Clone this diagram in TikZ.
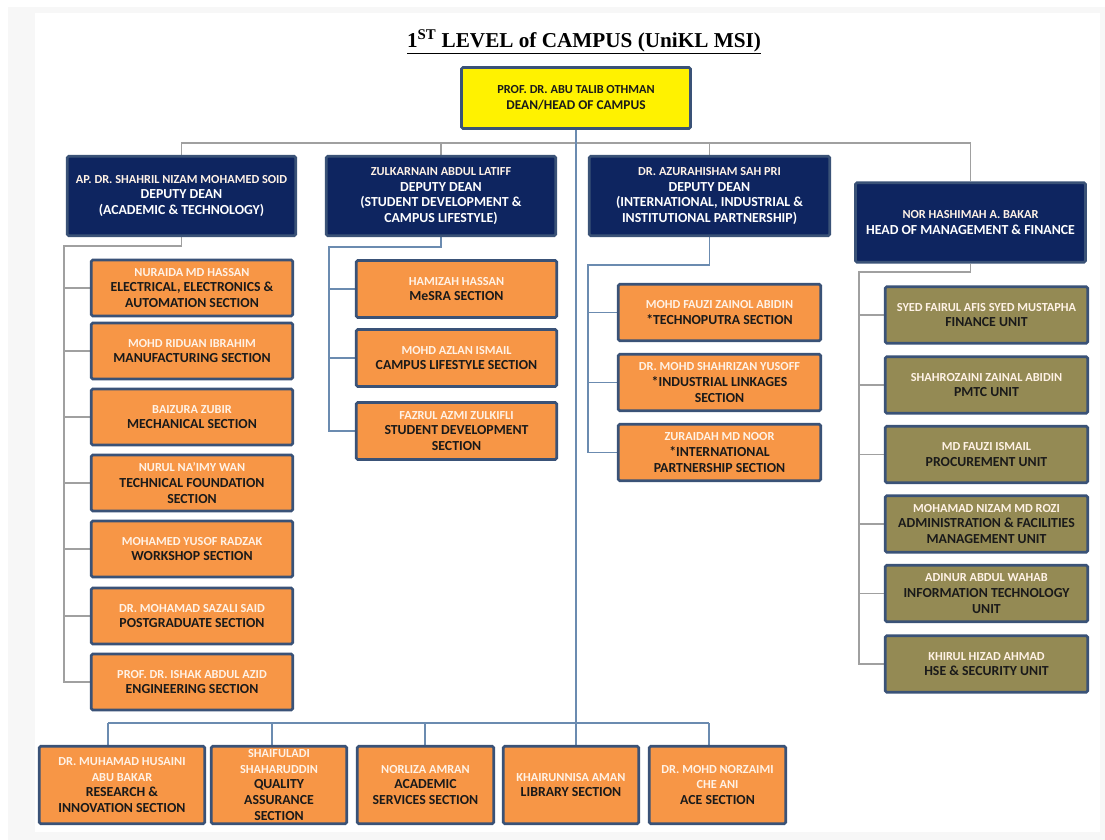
\documentclass[tikz,border=0pt]{standalone}
\usepackage{fontspec}
\setmainfont{Carlito}
\newfontfamily\titlefont{Liberation Serif}
\usetikzlibrary{backgrounds}
\definecolor{orangefill}{HTML}{F79646}
\definecolor{olivefill}{HTML}{948A54}
\definecolor{navyfill}{HTML}{0E2560}
\definecolor{bordercol}{HTML}{3A5277}
\definecolor{darktext}{HTML}{1A1A1A}
\definecolor{nmcol}{HTML}{FFF2E6}
\definecolor{linegray}{HTML}{A0A0A0}
\definecolor{lineblue}{HTML}{6B8BB0}
\definecolor{pagegray}{HTML}{F7F7F7}
\newcommand\nm[1]{{\color{nmcol}\fontsize{12.3}{15.8}\selectfont #1}}
\newcommand\dl[1]{{\fontsize{12.3}{16}\selectfont #1}}
\begin{document}
\begin{tikzpicture}[x=1pt,y=-1pt,
  box/.style={draw=bordercol, line width=2.6pt, rounded corners=1.5pt, align=center, inner sep=0pt,
              font=\bfseries\fontsize{13.8}{15.8}\selectfont},
  sz/.style 2 args={minimum width=#1, minimum height=#2},
  orangebox/.style={box, fill=orangefill, text=darktext},
  olivebox/.style={box, fill=olivefill, text=darktext},
  navybox/.style={box, fill=navyfill, text=white},
  deanbox/.style={box, fill=yellow, text=darktext, font=\bfseries\fontsize{13.4}{16}\selectfont},
  conn/.style={draw=linegray, line width=1.2pt},
  connb/.style={draw=lineblue, line width=1.2pt}]
\useasboundingbox (0,0) rectangle (1105,840);

% title
\node[font=\titlefont\bfseries\fontsize{21.2}{25}\selectfont, text=black] (title) at (584,42)
  {\underline{1\textsuperscript{ST} LEVEL of CAMPUS (UniKL MSI)}};

% dean
\node[deanbox, sz={229pt}{61pt}] (dean) at (576,98) {\dl{PROF. DR. ABU TALIB OTHMAN}\\DEAN/HEAD OF CAMPUS};

% deputy deans
\node[navybox, sz={228.5pt}{79.5pt}] (D1) at (181.5,196)
  {\nm{AP. DR. SHAHRIL NIZAM MOHAMED SOID}\\DEPUTY DEAN\\(ACADEMIC \& TECHNOLOGY)};
\node[navybox, sz={229.5pt}{79.5pt}] (D2) at (441,196)
  {\nm{ZULKARNAIN ABDUL LATIFF}\\DEPUTY DEAN\\(STUDENT DEVELOPMENT \&\\CAMPUS LIFESTYLE)};
\node[navybox, sz={240.5pt}{79.5pt}] (D3) at (709.5,196)
  {\nm{DR. AZURAHISHAM SAH PRI}\\DEPUTY DEAN\\(INTERNATIONAL, INDUSTRIAL \&\\INSTITUTIONAL PARTNERSHIP)};
\node[navybox, sz={230pt}{79.5pt}] (D4) at (970.5,222.5)
  {\nm{NOR HASHIMAH A. BAKAR}\\HEAD OF MANAGEMENT \& FINANCE};

% left column
\node[orangebox, sz={201.5pt}{56pt}] (L1) at (192,288) {\nm{NURAIDA MD HASSAN}\\ELECTRICAL, ELECTRONICS \&\\AUTOMATION SECTION};
\node[orangebox, sz={201.5pt}{56pt}] (L2) at (192,351) {\nm{MOHD RIDUAN IBRAHIM}\\MANUFACTURING SECTION};
\node[orangebox, sz={201.5pt}{56pt}] (L3) at (192,417) {\nm{BAIZURA ZUBIR}\\MECHANICAL SECTION};
\node[orangebox, sz={201.5pt}{56pt}] (L4) at (192,483) {\nm{NURUL NA’IMY WAN}\\TECHNICAL FOUNDATION\\SECTION};
\node[orangebox, sz={201.5pt}{56pt}] (L5) at (192,549) {\nm{MOHAMED YUSOF RADZAK}\\WORKSHOP SECTION};
\node[orangebox, sz={201.5pt}{56pt}] (L6) at (192,616) {\nm{DR. MOHAMAD SAZALI SAID}\\POSTGRADUATE SECTION};
\node[orangebox, sz={201.5pt}{56pt}] (L7) at (192,682) {\nm{PROF. DR. ISHAK ABDUL AZID}\\ENGINEERING SECTION};

% middle column
\node[orangebox, sz={200.5pt}{57pt}] (M1) at (456.5,289) {\nm{HAMIZAH HASSAN}\\MeSRA SECTION};
\node[orangebox, sz={200.5pt}{57pt}] (M2) at (456.5,358) {\nm{MOHD AZLAN ISMAIL}\\CAMPUS LIFESTYLE SECTION};
\node[orangebox, sz={200.5pt}{57pt}] (M3) at (456.5,431) {\nm{FAZRUL AZMI ZULKIFLI}\\STUDENT DEVELOPMENT\\SECTION};

% right column
\node[orangebox, sz={202.5pt}{56.5pt}] (R1) at (719.5,312.5) {\nm{MOHD FAUZI ZAINOL ABIDIN}\\*TECHNOPUTRA SECTION};
\node[orangebox, sz={202.5pt}{56.5pt}] (R2) at (719.5,382.5) {\nm{DR. MOHD SHAHRIZAN YUSOFF}\\*INDUSTRIAL LINKAGES\\SECTION};
\node[orangebox, sz={202.5pt}{56.5pt}] (R3) at (719.5,452.5) {\nm{ZURAIDAH MD NOOR}\\*INTERNATIONAL\\PARTNERSHIP SECTION};

% far right column
\node[olivebox, sz={202.5pt}{56.5pt}] (F1) at (986.5,315) {\nm{SYED FAIRUL AFIS SYED MUSTAPHA}\\FINANCE UNIT};
\node[olivebox, sz={202.5pt}{56.5pt}] (F2) at (986.5,385) {\nm{SHAHROZAINI ZAINAL ABIDIN}\\PMTC UNIT};
\node[olivebox, sz={202.5pt}{56.5pt}] (F3) at (986.5,454.5) {\nm{MD FAUZI ISMAIL}\\PROCUREMENT UNIT};
\node[olivebox, sz={202.5pt}{56.5pt}] (F4) at (986.5,524) {\nm{MOHAMAD NIZAM MD ROZI}\\ADMINISTRATION \& FACILITIES\\MANAGEMENT UNIT};
\node[olivebox, sz={202.5pt}{56.5pt}] (F5) at (986.5,593.5) {\nm{ADINUR ABDUL WAHAB}\\INFORMATION TECHNOLOGY\\UNIT};
\node[olivebox, sz={202.5pt}{56.5pt}] (F6) at (986.5,664) {\nm{KHIRUL HIZAD AHMAD}\\HSE \& SECURITY UNIT};

% bottom row
\node[orangebox, sz={165.5pt}{77.5pt}] (B1) at (122,785) {\nm{DR. MUHAMAD HUSAINI}\\\nm{ABU BAKAR}\\RESEARCH \&\\INNOVATION SECTION};
\node[orangebox, sz={135.5pt}{77.5pt}] (B2) at (279,785) {\nm{SHAIFULADI}\\\nm{SHAHARUDDIN}\\QUALITY\\ASSURANCE\\SECTION};
\node[orangebox, sz={136.5pt}{77.5pt}] (B3) at (425.5,785) {\nm{NORLIZA AMRAN}\\ACADEMIC\\SERVICES SECTION};
\node[orangebox, sz={135.5pt}{77.5pt}] (B4) at (571,785) {\nm{KHAIRUNNISA AMAN}\\LIBRARY SECTION};
\node[orangebox, sz={136.5pt}{77.5pt}] (B5) at (717.5,785) {\nm{DR. MOHD NORZAIMI}\\\nm{CHE ANI}\\ACE SECTION};

\begin{scope}[on background layer]
  \fill[pagegray] (8,7) rectangle (1105,840);
  \fill[white] (35,13) rectangle (1100,832);
  % bus coordinates
  \coordinate (tb) at (576,143);
  \coordinate (lt) at (64,246);
  \coordinate (mt) at (329,247);
  \coordinate (rt) at (588,265);
  \coordinate (ft) at (859,272);
  \coordinate (bb1) at (108,723);
  \coordinate (bb2) at (272,723);
  \coordinate (bb3) at (425,723);
  \coordinate (bb4) at (576,723);
  \coordinate (bb5) at (709,723);
  % top bus
  \draw[conn] (D1.north) |- (tb) -| (D4.north);
  \draw[conn] (D2.north) -- (D2.north |- tb);
  \draw[conn] (D3.north) -- (D3.north |- tb);
  % main vertical and bottom bus
  \draw[connb] (dean.south) -- (bb4) -- (bb4 |- B4.north);
  \draw[connb] (bb1) -- (bb5);
  \foreach \c/\b in {bb1/B1, bb2/B2, bb3/B3, bb5/B5}
    \draw[connb] (\c) -- (\c |- \b.north);
  % left tree
  \draw[conn] (D1.south) |- (lt) |- (L7.west);
  \foreach \b in {L1,L2,L3,L4,L5,L6}
    \draw[conn] (lt |- \b.west) -- (\b.west);
  % middle tree
  \draw[connb] (D2.south) |- (mt) |- (M3.west);
  \foreach \b in {M1,M2}
    \draw[connb] (mt |- \b.west) -- (\b.west);
  % right tree
  \draw[connb] (D3.south) |- (rt) |- (R3.west);
  \foreach \b in {R1,R2}
    \draw[connb] (rt |- \b.west) -- (\b.west);
  % far right tree
  \draw[conn] (D4.south) |- (ft) |- (F6.west);
  \foreach \b in {F1,F2,F3,F4,F5}
    \draw[conn] (ft |- \b.west) -- (\b.west);
\end{scope}
\end{tikzpicture}
\end{document}
